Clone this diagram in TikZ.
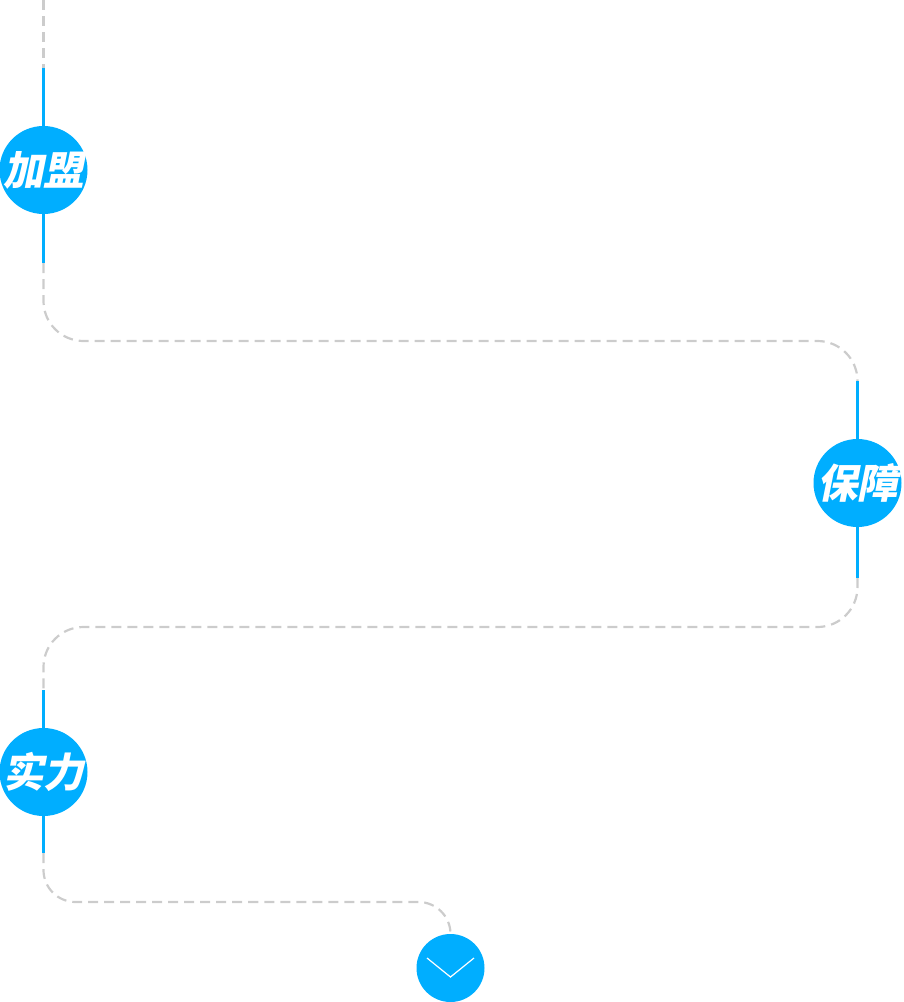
\documentclass[tikz,border=0pt]{standalone}
\usepackage{fontspec}
\newfontfamily\cjk[FakeSlant=0.2]{Noto Sans CJK SC Black}
\definecolor{sky}{HTML}{00AEFF}
\definecolor{railgray}{HTML}{CCCCCC}

\begin{document}
\begin{tikzpicture}[x=1pt, y=-1pt,
    stage/.style={circle, fill=sky, minimum size=88pt, inner sep=0pt, text=white,
      font=\cjk\fontsize{40.5}{40.5}\selectfont},
    live/.style={draw=sky, line width=3pt},
    rail/.style={draw=railgray, line width=2.2pt, dash pattern=on 10pt off 6pt, rounded corners=40pt}]
    \useasboundingbox (0,0) rectangle (904,1002);

    \node[stage] (jiameng)  at (43.5,170)  {\makebox[0pt]{加盟}};
    \node[stage] (baozhang) at (857.5,483) {\makebox[0pt]{保障}};
    \node[stage] (shili)    at (43.5,772)  {\makebox[0pt]{实力}};
    \node[circle, fill=sky, minimum size=68pt, inner sep=0pt] (xia) at (450.5,968) {};

    \coordinate (top)  at (43.5,0);
    \coordinate (a1)   at (43.5,68);
    \coordinate (a2)   at (43.5,263);
    \coordinate (b1)   at (857.5,381);
    \coordinate (b2)   at (857.5,578);
    \coordinate (c1)   at (43.5,690);
    \coordinate (c2)   at (43.5,853);
    \coordinate (turn) at (450.5,902);

    \draw[rail] (top) -- (a1);
    \draw[live] (a1) -- (jiameng.north);
    \draw[live] (jiameng.south) -- (a2);
    \draw[rail] (a2) |- (b1 |- 0,341) -- (b1);
    \draw[live] (b1) -- (baozhang.north);
    \draw[live] (baozhang.south) -- (b2);
    \draw[rail] (b2) |- (c1 |- 0,627) -- (c1);
    \draw[live] (c1) -- (shili.north);
    \draw[live] (shili.south) -- (c2);
    \draw[rail, rounded corners=32pt] (c2) |- (turn) -- (xia.north);

    \draw[white, line width=1.2pt] (xia.center) ++(-23.5,-10) -- ++(23.5,19) -- ++(23.5,-19);
\end{tikzpicture}
\end{document}
